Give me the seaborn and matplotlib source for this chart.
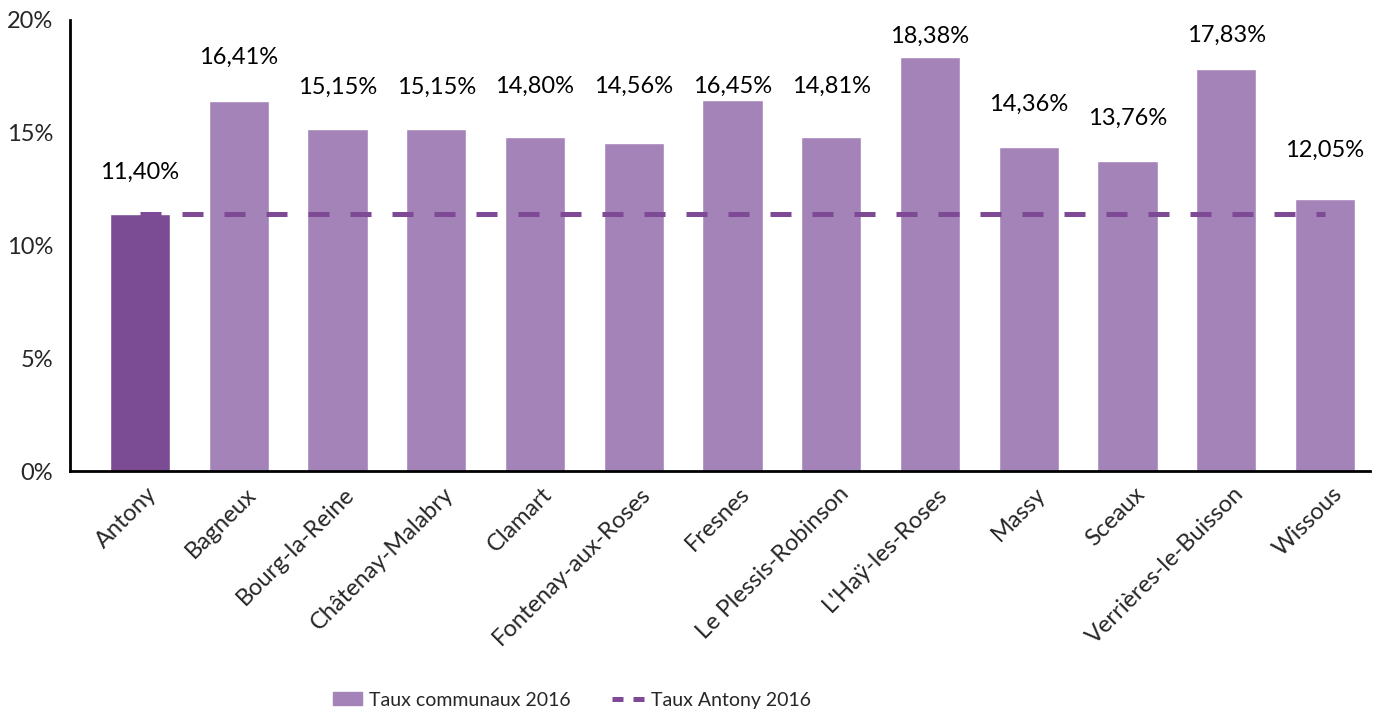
import matplotlib
matplotlib.use("Agg")
import matplotlib.pyplot as plt
import matplotlib.transforms as mtransforms
from matplotlib.lines import Line2D
from matplotlib.patches import Patch
import pandas as pd
import seaborn as sns

communes = ["Antony", "Bagneux", "Bourg-la-Reine", "Châtenay-Malabry", "Clamart",
            "Fontenay-aux-Roses", "Fresnes", "Le Plessis-Robinson", "L'Haÿ-les-Roses",
            "Massy", "Sceaux", "Verrières-le-Buisson", "Wissous"]
taux = [11.40, 16.41, 15.15, 15.15, 14.80, 14.56, 16.45, 14.81, 18.38,
        14.36, 13.76, 17.83, 12.05]
taux_antony = 11.40
y_ticks = [0, 5, 10, 15, 20]

# hauteur des étiquettes (comme placées dans le graphique d'origine)
label_y = [13.26, 18.36, 17.03, 17.03, 17.07, 17.07, 17.07, 17.07, 19.29,
           16.27, 15.65, 19.33, 14.23]

dark = "#7b4b94"
light = "#a383b8"
dash_col = "#7e4a96"

sns.set_theme(style="white")
plt.rcParams["font.family"] = ["Lato", "DejaVu Sans"]

df = pd.DataFrame({"commune": communes, "taux": taux})
palette = {c: (dark if c == "Antony" else light) for c in communes}

fig = plt.figure(figsize=(13.83, 7.13), dpi=100)
ax = fig.add_axes([0.0506, 0.339, 0.9400, 0.633])

sns.barplot(data=df, x="commune", y="taux", hue="commune", palette=palette,
            width=0.61, saturation=1, legend=False, ax=ax)

# ligne du taux d'Antony
ax.plot(range(len(communes)), [taux_antony] * len(communes), color=dash_col,
        lw=3.6, dashes=(4.2, 4.2), solid_capstyle="butt", zorder=3)

for i, v in enumerate(taux):
    ax.text(i, label_y[i], f"{v:.2f}%".replace(".", ","), ha="center", va="center",
            fontsize=17, color="black")

ax.set_xlim(-0.709, 12.456)
ax.set_ylim(0, 20)
ax.set_yticks(y_ticks)
ax.set_yticklabels([f"{t}%" for t in y_ticks], fontsize=17)
ax.set_xlabel("")
ax.set_ylabel("")
ax.tick_params(axis="y", length=0, pad=12)
ax.tick_params(axis="x", length=0, pad=14)

offset = mtransforms.ScaledTranslation(10 / 72, 0, fig.dpi_scale_trans)
for lab in ax.get_xticklabels():
    lab.set_rotation(45)
    lab.set_ha("right")
    lab.set_va("center")
    lab.set_rotation_mode("anchor")
    lab.set_fontsize(17)
    lab.set_transform(lab.get_transform() + offset)

sns.despine(ax=ax)
for side in ["left", "bottom"]:
    ax.spines[side].set_linewidth(2)
    ax.spines[side].set_color("black")

leg1 = fig.legend(handles=[Patch(color=light, label="Taux communaux 2016")],
                  loc="center left", bbox_to_anchor=(333 / 1383, 0.018), frameon=False,
                  fontsize=14, handlelength=1.5, handleheight=0.65, handletextpad=0.35,
                  borderpad=0, borderaxespad=0)
leg2 = fig.legend(handles=[Line2D([0], [0], color=dash_col, lw=3.6, dashes=(2.2, 2.0),
                                  label="Taux Antony 2016")],
                  loc="center left", bbox_to_anchor=(612 / 1383, 0.018), frameon=False,
                  fontsize=14, handlelength=1.65, handletextpad=0.35,
                  borderpad=0, borderaxespad=0)

fig.savefig("out.png", dpi=100)
